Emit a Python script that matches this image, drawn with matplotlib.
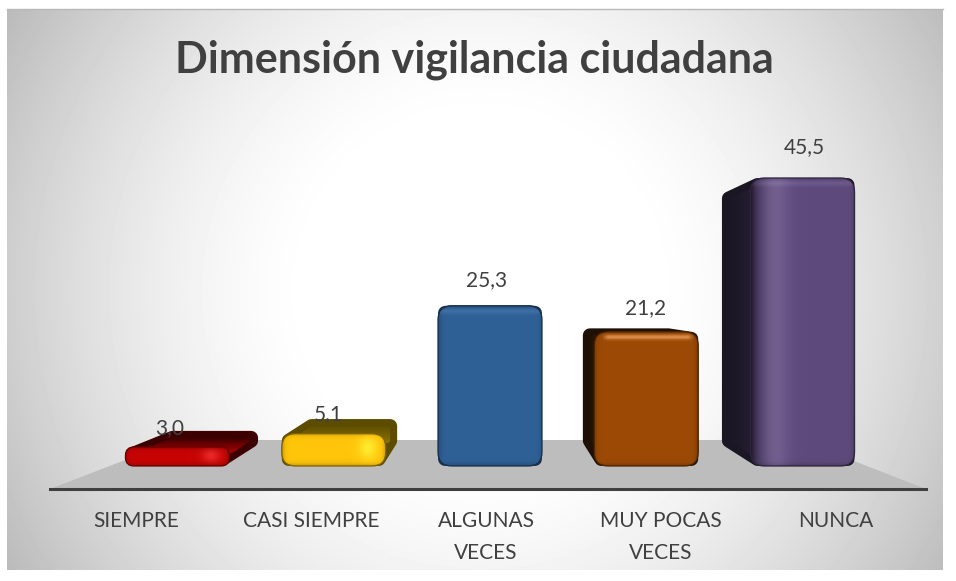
import numpy as np
import matplotlib
matplotlib.use("Agg")
import matplotlib.pyplot as plt
from matplotlib.patches import FancyBboxPatch, Polygon

categories = ["SIEMPRE", "CASI SIEMPRE", "ALGUNAS\nVECES", "MUY POCAS\nVECES", "NUNCA"]
values = [3.0, 5.1, 25.3, 21.2, 45.5]
value_labels = ["3,0", "5,1", "25,3", "21,2", "45,5"]
title = "Dimensión vigilancia ciudadana"

face_colors = ["#c80404", "#ffc60a", "#2f6096", "#9c4a06", "#5e4a7c"]
side_dark = ["#3c0000", "#5c4c00", "#16304e", "#1e1004", "#1a1624"]
side_light = ["#b00000", "#8a7400", "#1e4468", "#50280a", "#2a2238"]

W, H = 956, 581
plt.rcParams["font.family"] = ["Lato", "DejaVu Sans"]
fig = plt.figure(figsize=(W / 100, H / 100), dpi=100, facecolor="white")


def frac_axes(l, t, r, b, **kw):
    return fig.add_axes([l / W, 1 - b / H, (r - l) / W, (b - t) / H], **kw)


# background
bg = frac_axes(7, 9, 943, 570)
yy, xx = np.mgrid[9:570, 7:943]
t = np.hypot(xx - 480, yy - 290) / 550
g = 1 - 0.27 * np.clip((t - 0.3) / 0.7, 0, 1) ** 1.5
bg.imshow(g, cmap="gray", vmin=0, vmax=1, aspect="auto")
bg.set_xticks([]); bg.set_yticks([])
for s in bg.spines.values():
    s.set_visible(False)
bg.spines["top"].set_visible(True)
bg.spines["top"].set_color("#b8b8b8")
bg.spines["top"].set_linewidth(1)

# main axes
PX_X = 175.0
PX_Y = 6.33
L, R, T, B = 50, 926, 100, 489
ax = frac_axes(L, T, R, B, zorder=2)
ax.patch.set_visible(False)
xlim = ((L - 486) / PX_X + 2, (R - 486) / PX_X + 2)
ylim = ((466 - B) / PX_Y, (466 - T) / PX_Y)

ASPECT = PX_X / PX_Y
FRONT_SCALE = 0.893
CENTER = 2 + 4 / PX_X
WIDTH = 104 / PX_X
DEPTH = 0.11
VP_Y = (466 - 300) / PX_Y
RAD = 14 / PX_X

# floor
ax.add_patch(Polygon([(xlim[0], ylim[0]), (xlim[1], ylim[0]),
                      (xlim[1] - 126 / PX_X, 26 / PX_Y), (xlim[0] + 127 / PX_X, 26 / PX_Y)],
                     closed=True, fc="#bdbdbd", ec="none", zorder=1))


def back(x, y):
    return x + DEPTH * (CENTER - x), y + DEPTH * (VP_Y - y)


def hull(pts):
    pts = sorted(set(pts), key=lambda p: (p[0], p[1]))
    def cross(o, a, b):
        return ((a[0] - o[0]) * PX_X * (b[1] - o[1]) * PX_Y
                - (a[1] - o[1]) * PX_Y * (b[0] - o[0]) * PX_X)
    lo, up = [], []
    for p in pts:
        while len(lo) > 1 and cross(lo[-2], lo[-1], p) <= 0:
            lo.pop()
        lo.append(p)
    for p in reversed(pts):
        while len(up) > 1 and cross(up[-2], up[-1], p) <= 0:
            up.pop()
        up.append(p)
    return lo[:-1] + up[:-1]


def hex_rgb(c):
    return np.array(matplotlib.colors.to_rgb(c))


def inset(corners):
    cx = (corners[0][0] + corners[1][0]) / 2
    cy = (corners[0][1] + corners[2][1]) / 2
    ix, iy = 7 / PX_X, 7 / PX_Y
    return [(x + (ix if x < cx else -ix), y + (iy if y < cy else -iy)) for x, y in corners]


for i, v in enumerate(values):
    xc = CENTER + (i - 2) * FRONT_SCALE
    x0, x1 = xc - WIDTH / 2, xc + WIDTH / 2
    front = [(x0, 0), (x1, 0), (x1, v), (x0, v)]
    rear = [back(*p) for p in front]
    sil = hull(inset(front) + inset(rear))
    ax.add_patch(Polygon(sil, closed=True, fc=side_dark[i], ec=side_dark[i], lw=10,
                         joinstyle="round", zorder=3))
    clip = Polygon(sil, closed=True, fc="none", ec="none", zorder=3)
    ax.add_patch(clip)
    # side / top gradient
    c0, c1 = hex_rgb(side_dark[i]), hex_rgb(side_light[i])
    if i < 2:
        ramp = np.linspace(0, 1, 64)[:, None, None]      # bright next to the front face
        sx = (min(p[0] for p in sil), max(p[0] for p in sil))
        sy = (v * 0.7, max(p[1] for p in sil))
        img = c1 * (1 - ramp) + c0 * ramp
        im = ax.imshow(img, extent=(sx[0], sx[1], sy[0], sy[1]), origin="lower",
                       aspect="auto", zorder=3.1)
    else:
        ramp = np.linspace(0, 1, 64)[None, :, None]
        sx = (min(p[0] for p in sil), x0 + 12 / PX_X)
        img = c0 * (1 - ramp) + c1 * ramp
        im = ax.imshow(img, extent=(sx[0], sx[1], 0, max(v, rear[2][1])), origin="lower",
                       aspect="auto", zorder=3.1)
    im.set_clip_path(clip)

    # front face with bevel
    w_px, h_px = int(WIDTH * PX_X), max(int(v * PX_Y), 4)
    yp, xp = np.mgrid[0:h_px, 0:w_px]
    dl, dr, dt, db = xp + .5, w_px - xp - .5, yp + .5, h_px - yp - .5
    shade = 1 - 0.30 * (np.exp(-dl / 2.0) + np.exp(-dr / 2.0) + np.exp(-dt / 2.0) + np.exp(-db / 2.0))
    rgb = hex_rgb(face_colors[i])[None, None, :] * shade[..., None]
    glow = 0.06 * np.exp(-((dt - 6) / 3.0) ** 2)
    if i == 4:
        band = 0.09 * np.exp(-((dl - 24) / 14.0) ** 2)
        fade = np.exp(-dl / 9.0)
        rgb = rgb * (1 - 0.6 * fade[..., None])
        glow = glow + band
    if i == 3:
        glow = 0.26 * np.exp(-((dt - 6) / 2.5) ** 2) * np.clip((dl - 8) / 6, 0, 1) * np.clip((dr - 4) / 6, 0, 1)
    if i < 2:
        glow = 0.14 * np.exp(-((dr - 18) / 9.0) ** 2) * np.exp(-((db - h_px * 0.55) / (h_px * 0.35)) ** 2)
    rgb = np.clip(rgb + glow[..., None], 0, 1)
    patch = FancyBboxPatch((x0, 0), WIDTH, v,
                           boxstyle=f"round,pad=0,rounding_size={min(RAD, v * PX_Y * 0.45 / PX_X)}",
                           mutation_aspect=ASPECT, fc="none",
                           ec=tuple(hex_rgb(face_colors[i]) * 0.5), lw=0.9, zorder=4.1)
    ax.add_patch(patch)
    fim = ax.imshow(rgb, extent=(x0, x1, 0, v), aspect="auto", zorder=4)
    fim.set_clip_path(patch)

    # value label
    lx = 2 + 1 / PX_X + (i - 2) * 158.5 / PX_X
    off = 18 + 0.29 * v
    ax.annotate(value_labels[i], xy=(lx, v), xytext=(0, off * 0.72), textcoords="offset points",
                ha="center", va="center", fontsize=15, color="#404040", zorder=6)

ax.set_xlim(*xlim)
ax.set_ylim(*ylim)
ax.set_xticks(range(len(categories)))
ax.set_xticklabels(categories, fontsize=15, color="#404040", linespacing=1.75, va="top")
ax.tick_params(axis="x", length=0, pad=16)
ax.set_yticks([])
for s in ["top", "left", "right"]:
    ax.spines[s].set_visible(False)
ax.spines["bottom"].set_color("#3f3f3f")
ax.spines["bottom"].set_linewidth(2.2)
ax.spines["bottom"].set_zorder(5)

fig.text(474 / W, 1 - 60 / H, title, ha="center", va="center", fontsize=31,
         fontweight="bold", color="#404040", zorder=10)

fig.savefig("out.png", dpi=100, facecolor="white")
